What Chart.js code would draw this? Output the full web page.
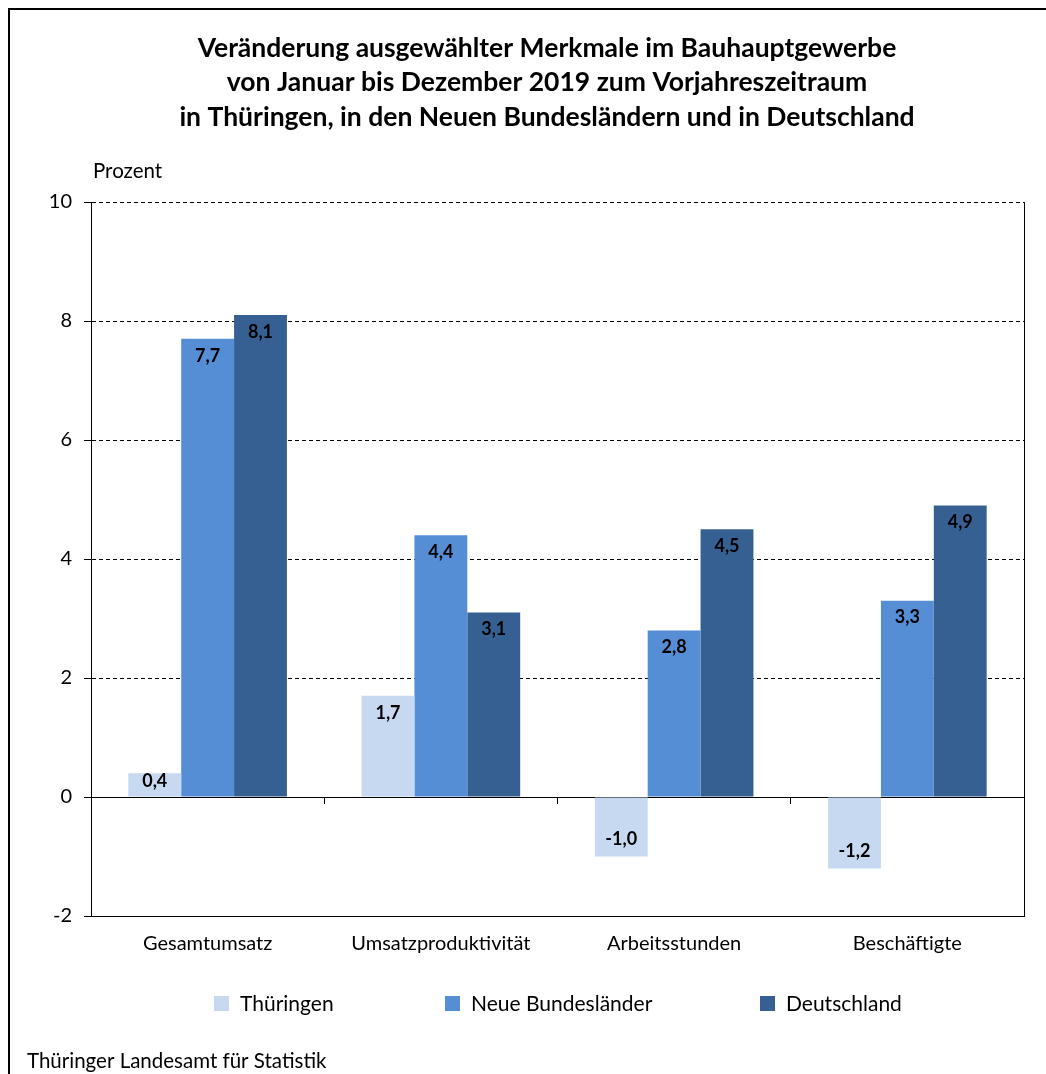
<!DOCTYPE html>
<html>
<head>
<meta charset="utf-8">
<script src="https://cdn.jsdelivr.net/npm/chart.js@4/dist/chart.umd.min.js"></script>
<style>
  html, body { margin: 0; padding: 0; background: #fff; }
  #wrap { position: absolute; left: 0; top: 0; width: 1046px; height: 1074px; }
</style>
</head>
<body>
<div id="wrap"><canvas id="chart" width="1046" height="1074"></canvas></div>
<script>
// data
const categories = ['Gesamtumsatz', 'Umsatzproduktivität', 'Arbeitsstunden', 'Beschäftigte'];
const seriesNames = ['Thüringen', 'Neue Bundesländer', 'Deutschland'];
const thueringen = [0.4, 1.7, -1.0, -1.2];
const neueLaender = [7.7, 4.4, 2.8, 3.3];
const deutschland = [8.1, 3.1, 4.5, 4.9];
const seriesColors = ['#c6d9f1', '#558ed5', '#376092'];
const yTicks = [-2, 0, 2, 4, 6, 8, 10];

const titleLines = [
  'Veränderung ausgewählter Merkmale im Bauhauptgewerbe',
  'von Januar bis Dezember 2019 zum Vorjahreszeitraum',
  'in Thüringen, in den Neuen Bundesländern und in Deutschland'
];

const fontFam = 'Lato, "Noto Sans", sans-serif';
const fmt = v => v.toFixed(1).replace('.', ',');

// frame, title, unit label, right border, value labels, legend, source
const extras = {
  id: 'extras',
  afterDraw(chart) {
    const ctx = chart.ctx;
    const area = chart.chartArea;
    ctx.save();

    // outer frame
    ctx.strokeStyle = '#000';
    ctx.lineWidth = 2;
    ctx.beginPath();
    ctx.moveTo(9, 1074);
    ctx.lineTo(9, 9);
    ctx.lineTo(1046, 9);
    ctx.stroke();

    // right border of plot
    ctx.lineWidth = 1;
    ctx.beginPath();
    ctx.moveTo(Math.round(area.right) + 0.5, area.top);
    ctx.lineTo(Math.round(area.right) + 0.5, area.bottom);
    ctx.stroke();

    // title
    ctx.fillStyle = '#000';
    ctx.font = 'bold 26.5px ' + fontFam;
    ctx.textAlign = 'center';
    ctx.textBaseline = 'middle';
    titleLines.forEach((t, i) => ctx.fillText(t, 547, 48 + i * 34.5));

    // unit
    ctx.font = '20.5px ' + fontFam;
    ctx.textAlign = 'left';
    ctx.fillText('Prozent', 93, 171);

    // value labels inside bar ends
    ctx.font = 'bold 18px ' + fontFam;
    ctx.textAlign = 'center';
    chart.data.datasets.forEach((ds, di) => {
      const meta = chart.getDatasetMeta(di);
      meta.data.forEach((bar, i) => {
        const v = ds.data[i];
        const len = Math.abs(bar.base - bar.y);
        let y;
        if (len < 34) y = (bar.y + bar.base) / 2 - 4;
        else y = v >= 0 ? bar.y + 17 : bar.y - 17;
        ctx.fillText(fmt(v), bar.x, y);
      });
    });

    // legend
    const legendX = [214, 445, 760];
    ctx.font = '21px ' + fontFam;
    ctx.textAlign = 'left';
    chart.data.datasets.forEach((ds, di) => {
      ctx.fillStyle = ds.backgroundColor;
      ctx.fillRect(legendX[di], 996, 15, 15);
      ctx.fillStyle = '#000';
      ctx.fillText(ds.label, legendX[di] + 26, 1004);
    });

    // source
    ctx.font = '20.5px ' + fontFam;
    ctx.fillText('Thüringer Landesamt für Statistik', 27, 1061);
    ctx.restore();
  }
};

const datasets = [thueringen, neueLaender, deutschland].map((vals, i) => ({
  label: seriesNames[i],
  data: vals,
  backgroundColor: seriesColors[i],
  borderWidth: 0,
  categoryPercentage: 0.68,
  barPercentage: 1.0
}));

new Chart(document.getElementById('chart'), {
  type: 'bar',
  data: { labels: categories, datasets: datasets },
  options: {
    responsive: false,
    animation: false,
    layout: { padding: { left: 0, right: 22, top: 202, bottom: 118 } },
    plugins: {
      legend: { display: false },
      tooltip: { enabled: false },
      title: { display: false }
    },
    scales: {
      x: {
        position: 'bottom',
        grid: { display: true, drawOnChartArea: false, drawTicks: false },
        border: { display: true, color: '#000', width: 1 },
        ticks: { color: '#000', font: { family: fontFam, size: 20 }, padding: 16 },
        afterFit(scale) { scale.height = 40; }
      },
      x0: {
        type: 'category',
        position: { y: 0 },
        offset: true,
        z: 1,
        grid: { display: true, offset: true, drawOnChartArea: false, drawTicks: true, tickLength: 6, color: '#000' },
        border: { display: true, color: '#000', width: 1 },
        ticks: { display: false }
      },
      y: {
        min: -2,
        max: 10,
        afterBuildTicks(scale) { scale.ticks = yTicks.map(v => ({ value: v })); },
        grid: { color: '#000', lineWidth: 1, tickLength: 7, tickColor: '#000' },
        border: { display: true, color: '#000', width: 1, dash: [4, 3] },
        ticks: { color: '#000', font: { family: fontFam, size: 20 }, padding: 12 },
        afterFit(scale) { scale.width = 91; }
      }
    }
  },
  plugins: [extras]
});
</script>
</body>
</html>
